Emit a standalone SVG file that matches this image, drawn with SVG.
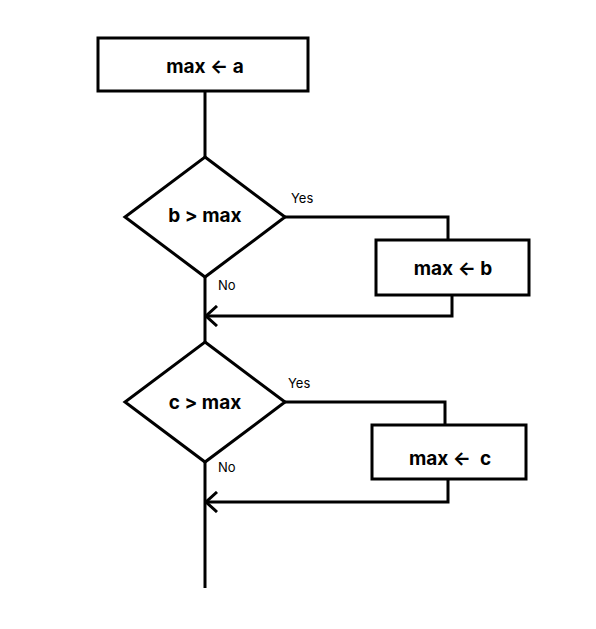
<svg xmlns="http://www.w3.org/2000/svg" width="596" height="629" viewBox="0 0 596 629">
<defs>
<style>
.shape{fill:#fff;stroke:#000;stroke-width:3}
.conn{fill:none;stroke:#000;stroke-width:3}
.t{font-family:Inter,"Liberation Sans",sans-serif;font-weight:700;font-size:19px;fill:#000;text-anchor:middle;dominant-baseline:central}
.lbl{font-family:Inter,"Liberation Sans",sans-serif;font-size:13px;fill:#000}
</style>
<marker id="arr" viewBox="0 0 14 22" refX="12" refY="11" markerWidth="14" markerHeight="22" markerUnits="userSpaceOnUse" orient="auto">
<path d="M1,1 L12,11 L1,21" fill="none" stroke="#000" stroke-width="3"/>
</marker>
</defs>
<rect width="596" height="629" fill="#fff"/>
<g id="connectors">
<path class="conn" d="M205,91 V157"/>
<path class="conn" d="M285,217 H448 V240"/>
<path class="conn" d="M452,295 V316 H206" marker-end="url(#arr)"/>
<path class="conn" d="M205,277 V342"/>
<path class="conn" d="M285,402 H445 V425"/>
<path class="conn" d="M448,479 V502 H206" marker-end="url(#arr)"/>
<path class="conn" d="M205,462 V588"/>
<text class="lbl" x="291" y="203">Yes</text>
<text class="lbl" x="218" y="290">No</text>
<text class="lbl" x="288" y="388">Yes</text>
<text class="lbl" x="218" y="472">No</text>
</g>
<g id="n_init">
<rect class="shape" x="98" y="38" width="210" height="53"/>
<text class="t" x="205" y="66">max ← a</text>
</g>
<g id="n_dec1">
<polygon class="shape" points="205,157 285,217 205,277 125,217"/>
<text class="t" x="205" y="215">b &gt; max</text>
</g>
<g id="n_setb">
<rect class="shape" x="376" y="240" width="153" height="55"/>
<text class="t" x="453" y="268">max ← b</text>
</g>
<g id="n_dec2">
<polygon class="shape" points="205,342 285,402 205,462 125,402"/>
<text class="t" x="205" y="402">c &gt; max</text>
</g>
<g id="n_setc">
<rect class="shape" x="372" y="425" width="154" height="54"/>
<text class="t" x="450" y="458" xml:space="preserve">max ←  c</text>
</g>
</svg>
